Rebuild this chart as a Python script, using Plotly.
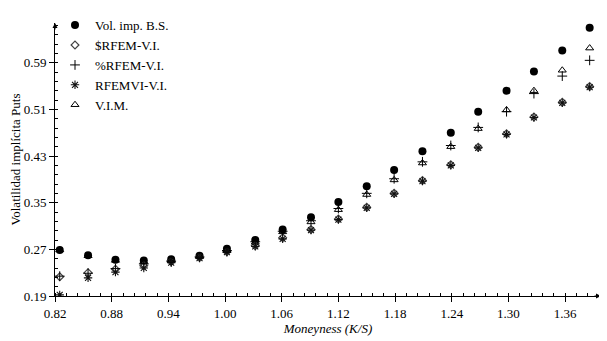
import plotly.graph_objects as go

moneyness = [0.825, 0.855, 0.884, 0.914, 0.943, 0.973, 1.002, 1.032, 1.061, 1.091,
             1.120, 1.150, 1.179, 1.209, 1.239, 1.268, 1.298, 1.327, 1.357, 1.386]

vol_bs = [0.269, 0.260, 0.252, 0.251, 0.253, 0.259, 0.271, 0.286, 0.304, 0.325,
          0.351, 0.378, 0.406, 0.438, 0.470, 0.506, 0.542, 0.575, 0.611, 0.650]
rfem_usd = [0.223, 0.230, 0.236, 0.242, 0.249, 0.256, 0.266, 0.276, 0.290, 0.304,
            0.322, 0.342, 0.366, 0.388, 0.415, 0.445, 0.468, 0.497, 0.522, 0.549]
rfem_pct = [0.224, 0.229, 0.237, 0.245, 0.250, 0.257, 0.268, 0.283, 0.301, 0.319,
            0.340, 0.366, 0.391, 0.420, 0.448, 0.479, 0.506, 0.537, 0.567, 0.594]
rfemvi = [0.192, 0.221, 0.231, 0.238, 0.247, 0.255, 0.265, 0.275, 0.288, 0.303,
          0.321, 0.341, 0.365, 0.387, 0.414, 0.444, 0.467, 0.496, 0.521, 0.548]
vim = [0.269, 0.259, 0.251, 0.249, 0.251, 0.258, 0.268, 0.282, 0.300, 0.317,
       0.338, 0.364, 0.389, 0.418, 0.446, 0.477, 0.509, 0.542, 0.577, 0.615]

names = ["Vol. imp. B.S.", "$RFEM-V.I.", "%RFEM-V.I.", "RFEMVI-V.I.", "V.I.M."]
x_ticks = [0.82, 0.88, 0.94, 1.00, 1.06, 1.12, 1.18, 1.24, 1.30, 1.36]
y_ticks = [0.19, 0.27, 0.35, 0.43, 0.51, 0.59]

FONT = "Liberation Serif"

fig = go.Figure()
fig.add_trace(go.Scatter(x=moneyness, y=vol_bs, mode="markers", name=names[0],
                         marker=dict(symbol="circle", size=8, color="black")))
fig.add_trace(go.Scatter(x=moneyness, y=rfem_usd, mode="markers", name=names[1],
                         marker=dict(symbol="diamond-open", size=6, color="#444444",
                                     line=dict(width=1.2))))
fig.add_trace(go.Scatter(x=moneyness, y=rfem_pct, mode="markers", name=names[2],
                         marker=dict(symbol="cross-thin-open", size=7, color="black",
                                     line=dict(width=1))))
fig.add_trace(go.Scatter(x=moneyness, y=rfemvi, mode="markers", name=names[3],
                         marker=dict(symbol="asterisk-open", size=7, color="#111111",
                                     line=dict(width=1.1))))
fig.add_trace(go.Scatter(x=moneyness, y=vim, mode="markers", name=names[4],
                         marker=dict(symbol="triangle-up-open", size=7, color="black",
                                     line=dict(width=1))))

# page body has an 8px margin: figure is sized/positioned to compensate
fig.update_layout(
    width=599, height=333,
    margin=dict(l=47, r=6, t=2, b=45),
    paper_bgcolor="white", plot_bgcolor="white",
    font=dict(family=FONT, size=12, color="black"),
    showlegend=True,
    legend=dict(x=0.0, y=1.047, xanchor="left", yanchor="top",
                bgcolor="rgba(0,0,0,0)", font=dict(family=FONT, size=13),
                itemsizing="trace", itemwidth=30, tracegroupgap=0),
)
fig.update_xaxes(
    range=[0.82, 1.398], showline=True, linecolor="black", linewidth=1,
    showgrid=False, zeroline=False,
    tickvals=x_ticks, ticktext=[f"{v:.2f}" for v in x_ticks],
    ticks="outside", ticklen=5, tickcolor="black",
    minor=dict(dtick=0.012, tick0=0.82, ticks="inside", ticklen=3, tickcolor="black"),
    title=dict(text="<i>Moneyness (K/S)</i>", font=dict(family=FONT, size=13), standoff=4),
    tickfont=dict(family=FONT, size=13),
)
fig.update_yaxes(
    range=[0.19, 0.658], showline=True, linecolor="black", linewidth=1,
    showgrid=False, zeroline=False,
    tickvals=y_ticks, ticktext=[f"{v:.2f}" for v in y_ticks],
    ticks="outside", ticklen=5, tickcolor="black",
    minor=dict(dtick=0.016, tick0=0.19, ticks="inside", ticklen=3, tickcolor="black"),
    title=dict(text="Volatilidad implícita Puts", font=dict(family=FONT, size=13), standoff=4),
    tickfont=dict(family=FONT, size=13),
)
# axis arrowheads
fig.add_annotation(xref="paper", yref="paper", x=1, y=0, ax=-8, ay=0, text="",
                   showarrow=True, arrowhead=2, arrowsize=1, arrowwidth=1, arrowcolor="black")
fig.add_annotation(xref="paper", yref="paper", x=0, y=1, ax=0, ay=8, text="",
                   showarrow=True, arrowhead=2, arrowsize=1, arrowwidth=1, arrowcolor="black")

fig.write_html("out.html")
